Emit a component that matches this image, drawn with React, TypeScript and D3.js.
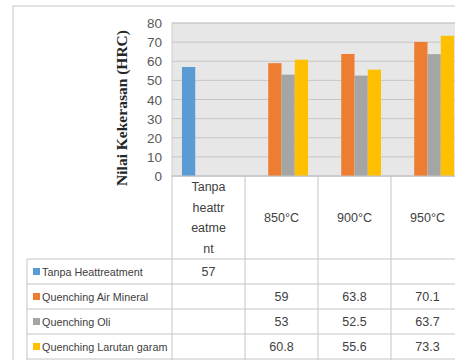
import { scaleBand, scaleLinear } from 'd3'

const categories = ['Tanpa heattreatment', '850°C', '900°C', '950°C']
const headerLines = [['Tanpa', 'heattr', 'eatme', 'nt'], ['850°C'], ['900°C'], ['950°C']]
const seriesNames = ['Tanpa Heattreatment', 'Quenching Air Mineral', 'Quenching Oli', 'Quenching Larutan garam']
const tanpa = [57, null, null, null]
const airMineral = [null, 59, 63.8, 70.1]
const oli = [null, 53, 52.5, 63.7]
const larutanGaram = [null, 60.8, 55.6, 73.3]
const yTicks = [0, 10, 20, 30, 40, 50, 60, 70, 80]
const colors = ['#5b9bd5', '#ed7d31', '#a5a5a5', '#ffc000']

const series = [tanpa, airMineral, oli, larutanGaram]

const W = 455
const H = 360
const plotLeft = 172
const plotTop = 23
const plotBottom = 176
const tableLeft = 27
const headerBottom = 259
const rowH = 25
const font = '"Liberation Sans", Arial, sans-serif'

export default function App() {
  // categories run off the right edge like in the picture
  const x = scaleBand<string>().domain(categories).range([plotLeft, plotLeft + 73 * 4])
  const inner = scaleBand<string>()
    .domain(seriesNames)
    .range([0, x.bandwidth()])
    .paddingInner(0)
    .paddingOuter(0.75)
  const y = scaleLinear().domain([0, 80]).range([plotBottom, plotTop])

  const rowY = (i: number) => headerBottom + i * rowH

  return (
    <svg
      width={W}
      height={H}
      style={{ position: 'fixed', top: 0, left: 0, background: '#fff' }}
    >
      {/* outer frame */}
      <rect x={13} y={6} width={W + 20} height={H + 20} fill='#fff' stroke='#d9d9d9' strokeWidth={1.5} />

      {/* plot area */}
      <rect x={plotLeft} y={plotTop} width={W - plotLeft + 5} height={plotBottom - plotTop} fill='#e7e7e7' stroke='#d0d0d0' />
      {yTicks.map(t => (
        <line key={t} x1={plotLeft} x2={W} y1={y(t)} y2={y(t)} stroke='#c6c6c6' strokeWidth={1} />
      ))}
      {yTicks.map(t => (
        <text key={'l' + t} x={162} y={y(t) + 5} textAnchor='end' fontFamily={font} fontSize={13.5} fill='#595959'>
          {t}
        </text>
      ))}

      {/* bars */}
      {series.map((vals, si) =>
        vals.map((v, ci) =>
          v == null ? null : (
            <rect
              key={si + '-' + ci}
              x={(x(categories[ci]) ?? 0) + (inner(seriesNames[si]) ?? 0)}
              y={y(v)}
              width={inner.bandwidth()}
              height={y(0) - y(v)}
              fill={colors[si]}
            />
          )
        )
      )}

      {/* y title */}
      <text
        transform={`translate(127,${(22 + 194) / 2}) rotate(-90)`}
        textAnchor='middle'
        fontFamily='"Liberation Serif", "Times New Roman", serif'
        fontWeight='bold'
        fontSize={15.5}
        fill='#262626'
      >
        Nilai Kekerasan (HRC)
      </text>

      {/* data table */}
      <g stroke='#c4c4c4' strokeWidth={1}>
        <line x1={plotLeft} x2={W} y1={plotBottom} y2={plotBottom} />
        {[0, 1, 2, 3, 4].map(i => (
          <line key={'h' + i} x1={tableLeft} x2={W} y1={rowY(i)} y2={rowY(i)} />
        ))}
        <line x1={tableLeft} x2={tableLeft} y1={headerBottom} y2={H} />
        {categories.map(c => (
          <line key={'v' + c} x1={x(c)} x2={x(c)} y1={plotBottom} y2={H} />
        ))}
      </g>

      {categories.map((c, ci) => {
        const cx = (x(c) ?? 0) + x.bandwidth() / 2
        const lines = headerLines[ci]
        const lh = 20.5
        const cy = (plotBottom + headerBottom) / 2
        return lines.map((ln, li) => (
          <text
            key={c + li}
            x={cx}
            y={cy + (li - (lines.length - 1) / 2) * lh + 4.5}
            textAnchor='middle'
            fontFamily={font}
            fontSize={12.5}
            fill='#404040'
          >
            {ln}
          </text>
        ))
      })}

      {seriesNames.map((s, si) => (
        <g key={s}>
          <rect x={33} y={rowY(si) + rowH / 2 - 3.5} width={7} height={7} fill={colors[si]} />
          <text x={42} y={rowY(si) + rowH / 2 + 4.5} fontFamily={font} fontSize={10.8} fill='#404040'>
            {s}
          </text>
          {series[si].map((v, ci) =>
            v == null ? null : (
              <text
                key={ci}
                x={(x(categories[ci]) ?? 0) + x.bandwidth() / 2}
                y={rowY(si) + rowH / 2 + 4.5}
                textAnchor='middle'
                fontFamily={font}
                fontSize={12.5}
                fill='#404040'
              >
                {v}
              </text>
            )
          )}
        </g>
      ))}
    </svg>
  )
}
